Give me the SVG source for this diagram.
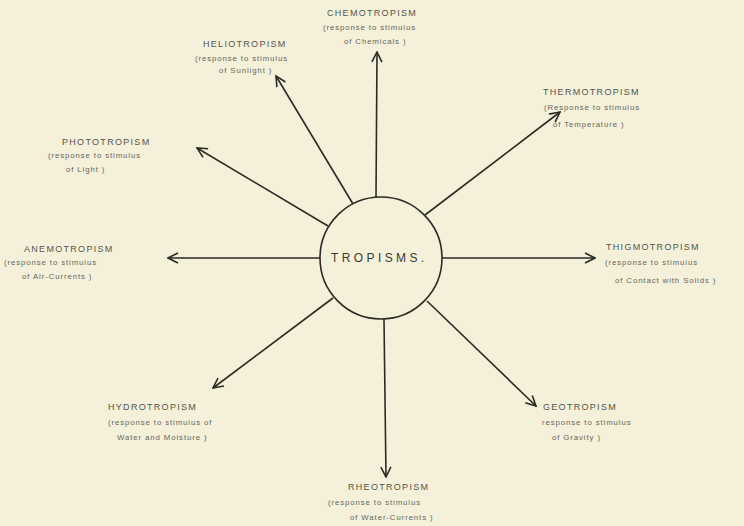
<svg xmlns="http://www.w3.org/2000/svg" width="744" height="526" viewBox="0 0 744 526">
<defs>
<marker id="ah" viewBox="0 0 12 12" refX="11" refY="6" markerWidth="12" markerHeight="12" markerUnits="userSpaceOnUse" orient="auto">
<path d="M1,1 L11,6 L1,11" fill="none" stroke="#2b2b26" stroke-width="1.6"/>
</marker>
<style>
.bg{fill:#f4f0da}
.ln{stroke:#2b2b26;stroke-width:1.6;fill:none;marker-end:url(#ah)}
.t{font-family:"Liberation Sans",Arial,sans-serif;fill:#55554c;font-size:9px;letter-spacing:1.3px}
.s{font-family:"Liberation Sans",Arial,sans-serif;fill:#66665c;font-size:7.8px;letter-spacing:0.9px}
.c{font-family:"Liberation Sans",Arial,sans-serif;fill:#3a3a33;font-size:12px;letter-spacing:3.4px}
</style>
</defs>
<rect class="bg" x="0" y="0" width="744" height="526"/>
<g id="connectors">
<line class="ln" x1="376" y1="197" x2="377" y2="52"/>
<line class="ln" x1="353" y1="204" x2="276" y2="76"/>
<line class="ln" x1="425" y1="215" x2="560" y2="112"/>
<line class="ln" x1="328" y1="226" x2="197" y2="148"/>
<line class="ln" x1="320" y1="258" x2="168" y2="258"/>
<line class="ln" x1="442" y1="258" x2="595" y2="258"/>
<line class="ln" x1="333" y1="298" x2="213" y2="388"/>
<line class="ln" x1="427" y1="301" x2="536" y2="406"/>
<line class="ln" x1="384" y1="319" x2="386" y2="477"/>
</g>
<g id="tropisms">
<circle cx="381" cy="258" r="61" fill="none" stroke="#2b2b26" stroke-width="1.6"/>
<text class="c" x="331" y="262">TROPISMS.</text>
</g>
<g id="chemotropism">
<text class="t" x="327" y="16">CHEMOTROPISM</text>
<text class="s" x="323" y="30">(response to stimulus</text>
<text class="s" x="344" y="44">of Chemicals )</text>
</g>
<g id="heliotropism">
<text class="t" x="203" y="47">HELIOTROPISM</text>
<text class="s" x="195" y="61">(response to stimulus</text>
<text class="s" x="219" y="73">of Sunlight )</text>
</g>
<g id="thermotropism">
<text class="t" x="543" y="95">THERMOTROPISM</text>
<text class="s" x="544" y="110">(Response to stimulus</text>
<text class="s" x="553" y="127">of Temperature )</text>
</g>
<g id="phototropism">
<text class="t" x="62" y="145">PHOTOTROPISM</text>
<text class="s" x="48" y="158">(response to stimulus</text>
<text class="s" x="66" y="172">of Light )</text>
</g>
<g id="anemotropism">
<text class="t" x="24" y="252">ANEMOTROPISM</text>
<text class="s" x="4" y="265">(response to stimulus</text>
<text class="s" x="22" y="279">of Air-Currents )</text>
</g>
<g id="thigmotropism">
<text class="t" x="606" y="250">THIGMOTROPISM</text>
<text class="s" x="605" y="265">(response to stimulus</text>
<text class="s" x="615" y="283">of Contact with Solids )</text>
</g>
<g id="hydrotropism">
<text class="t" x="108" y="410">HYDROTROPISM</text>
<text class="s" x="108" y="425">(response to stimulus of</text>
<text class="s" x="117" y="440">Water and Moisture )</text>
</g>
<g id="geotropism">
<text class="t" x="543" y="410">GEOTROPISM</text>
<text class="s" x="542" y="425">response to stimulus</text>
<text class="s" x="552" y="440">of Gravity )</text>
</g>
<g id="rheotropism">
<text class="t" x="348" y="490">RHEOTROPISM</text>
<text class="s" x="328" y="505">(response to stimulus</text>
<text class="s" x="350" y="520">of Water-Currents )</text>
</g>
</svg>
